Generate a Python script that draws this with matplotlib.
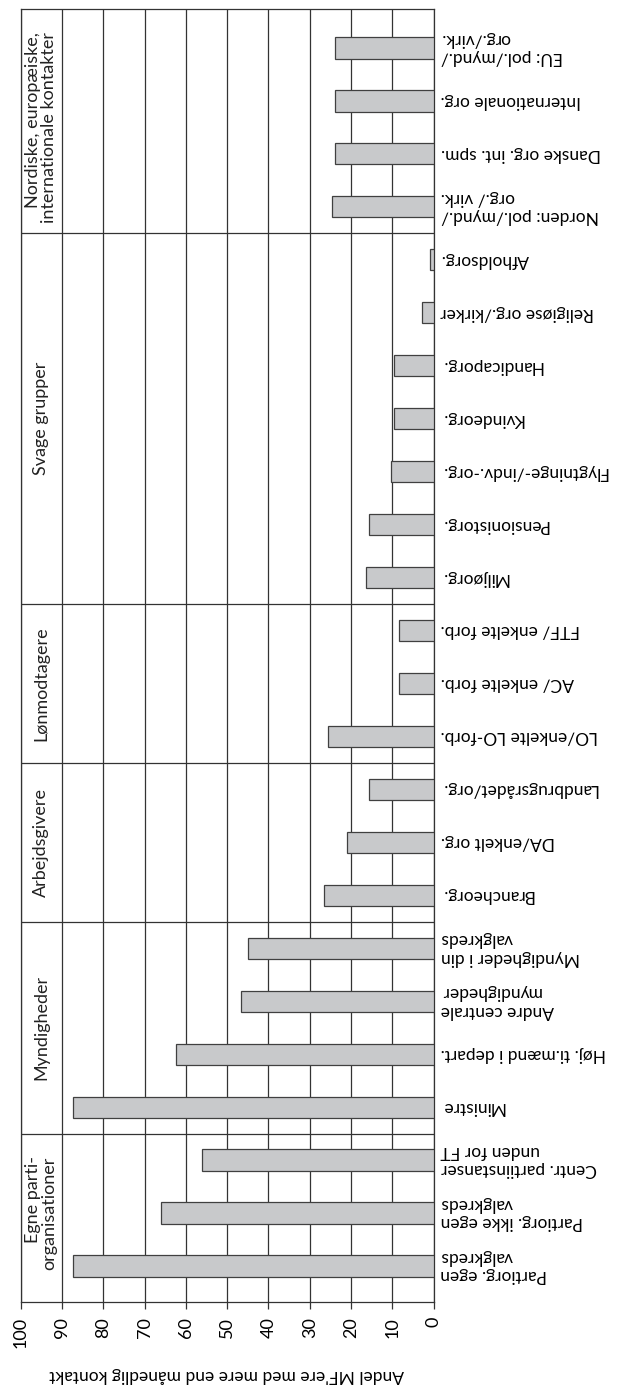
import matplotlib
matplotlib.use('Agg')
import matplotlib.pyplot as plt
import numpy as np

# categories from bottom (first) to top (last), as they appear in the picture
categories = [
    'Partiorg. egen\nvalgkreds',
    'Partiorg. ikke egen\nvalgkreds',
    'Centr. partiinstanser\nunden for FT',
    'Ministre',
    'Høj. ti.mænd i depart.',
    'Andre centrale\nmyndigheder',
    'Myndigheder i din\nvalgkreds',
    'Brancheorg.',
    'DA/enkelt org.',
    'Landbrugsrådet/org.',
    'LO/enkelte LO-forb.',
    'AC/ enkelte forb.',
    'FTF/ enkelte forb.',
    'Miljøorg.',
    'Pensionistorg.',
    'Flygtninge-/indv.-org.',
    'Kvindeorg.',
    'Handicaporg.',
    'Religiøse org./kirker',
    'Afholdsorg.',
    'Norden: pol./mynd./\norg./ virk.',
    'Danske org. int. spm.',
    'Internationale org.',
    'EU: pol./mynd./\norg./virk.',
]
values = [87.3, 66.0, 56.0, 87.3, 62.4, 46.7, 45.0, 26.5, 21.1, 15.6, 25.6, 8.3, 8.3,
          16.5, 15.6, 10.3, 9.6, 9.6, 2.9, 0.9, 24.7, 23.9, 23.9, 23.9]

groups = ['Egne parti-\norganisationer', 'Myndigheder', 'Arbejdsgivere',
          'Lønmodtagere', 'Svage grupper', 'Nordiske, europæiske,\ninternationale kontakter']
group_sizes = [3, 4, 3, 3, 7, 4]
ticks = [0, 10, 20, 30, 40, 50, 60, 70, 80, 90, 100]

plt.rcParams['font.family'] = ['Lato', 'DejaVu Sans']
line_col = '#333333'

fig = plt.figure(figsize=(6.19, 13.85), dpi=100)
ax = fig.add_axes([20.7 / 619, 1 - 1301.7 / 1385, (433.7 - 20.7) / 619, (1301.7 - 9.3) / 1385])

y = np.arange(len(categories))
ax.barh(y, values, height=0.40, color='#c8c9cb', edgecolor='#404040', linewidth=0.9, zorder=3)

ax.set_xlim(100, 0)
ax.set_ylim(-0.674, len(categories) - 1 + 0.73)
ax.set_xticks(ticks)
ax.set_xticklabels([str(t) for t in ticks], rotation=90, fontsize=13)
ax.xaxis.grid(True, color=line_col, linewidth=0.9, zorder=1)
ax.set_axisbelow(True)

ax.yaxis.tick_right()
ax.set_yticks(y)
ax.set_yticklabels(categories, rotation=180, fontsize=12.5, ha='left', va='center')
for t in ax.get_yticklabels():
    t.set_multialignment('right')
ax.tick_params(axis='y', length=0, pad=5)
ax.tick_params(axis='x', length=5, width=0.9, color=line_col, pad=6)

for s in ax.spines.values():
    s.set_color(line_col)
    s.set_linewidth(0.9)

# group dividers and headers
start = 0
for name, n in zip(groups, group_sizes):
    end = start + n
    if end < len(categories):
        ax.axhline(end - 0.5, color=line_col, linewidth=0.9, zorder=2)
    ax.text(95, (start + end - 1) / 2, name, rotation=90, ha='center', va='center',
            fontsize=13, multialignment='right', color='#222222', linespacing=1.0)
    start = end

fig.text(227 / 619, 1 - 1375 / 1385, "Andel MF'ere med mere end månedlig kontakt",
         rotation=180, fontsize=12.5, ha='center', va='center')

plt.savefig('out.png', dpi=100)
plt.close()
